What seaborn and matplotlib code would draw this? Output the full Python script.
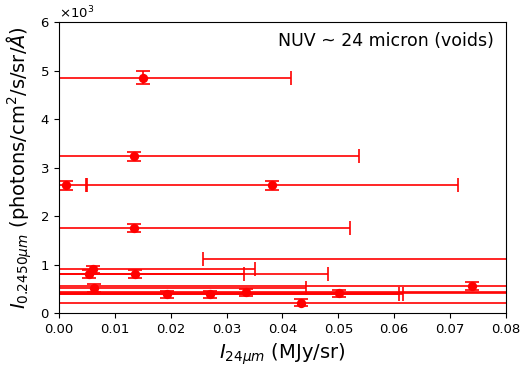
import matplotlib
matplotlib.use("Agg")
import matplotlib.pyplot as plt
import matplotlib.ticker as mticker
import numpy as np
import pandas as pd
import seaborn as sns

# Data
i24 = [0.0150, 0.0135, 0.0012, 0.0382, 0.0135, 0.0950, 0.0061, 0.0053, 0.0136,
       0.0063, 0.0739, 0.0194, 0.0271, 0.0334, 0.0502, 0.0434]
inuv = [4850, 3230, 2630, 2630, 1750, 1110, 900, 800, 800,
        520, 550, 390, 390, 430, 410, 210]
i24_err = [0.0265, 0.0402, 0.0037, 0.0332, 0.0385, 0.0692, 0.0289, 0.0278, 0.0346,
           0.0380, 0.0800, 0.0414, 0.0345, 0.0600, 0.0550, 0.0500]
inuv_err = [130, 100, 100, 100, 80, 80, 80, 80, 80,
            80, 80, 70, 70, 70, 70, 70]

df = pd.DataFrame({"x": i24, "y": inuv, "xerr": i24_err, "yerr": inuv_err})

sns.set_style("ticks")
plt.rcParams['font.family'] = ['DejaVu Sans']
plt.rcParams['mathtext.fontset'] = 'dejavusans'
for k in ['text.color', 'axes.labelcolor', 'xtick.color', 'ytick.color', 'axes.edgecolor']:
    plt.rcParams[k] = 'black'

fig = plt.figure(figsize=(5.26, 3.67), dpi=100)
ax = fig.add_axes([0.112, 0.147, 0.850, 0.793])

ax.errorbar(df["x"], df["y"], xerr=df["xerr"], yerr=df["yerr"], fmt='none',
            ecolor='red', elinewidth=1.2, capsize=4.7, capthick=1.2, zorder=2)
sns.scatterplot(data=df, x="x", y="y", ax=ax, color='red', s=45,
                edgecolor='red', linewidth=0, zorder=3, legend=False)

ax.set_xlim(0, 0.08)
ax.set_ylim(0, 6000)
ax.set_xticks(np.arange(0, 0.081, 0.01))
ax.set_yticks(np.arange(0, 6001, 1000))
fmt = mticker.ScalarFormatter(useMathText=True)
fmt.set_powerlimits((0, 0))
ax.yaxis.set_major_formatter(fmt)
ax.xaxis.set_major_formatter(mticker.FormatStrFormatter('%.2f'))
ax.tick_params(labelsize=9.5, direction='out', length=3.5, width=0.8,
               color='black', labelcolor='black')
ax.yaxis.get_offset_text().set_fontsize(9.5)
for s in ax.spines.values():
    s.set_color('black')
    s.set_linewidth(0.8)
    s.set_visible(True)

ax.set_xlabel(r"$I_{24\mu m}$ (MJy/sr)", fontsize=14, color='black')
ax.set_ylabel(r"$I_{0.2450\mu m}$ (photons/cm$^2$/s/sr/$\AA$)", fontsize=14,
              color='black')
ax.text(0.972, 0.965, "NUV ~ 24 micron (voids)", transform=ax.transAxes,
        ha='right', va='top', fontsize=12.5, color='black')

fig.savefig("out.png", dpi=100)
